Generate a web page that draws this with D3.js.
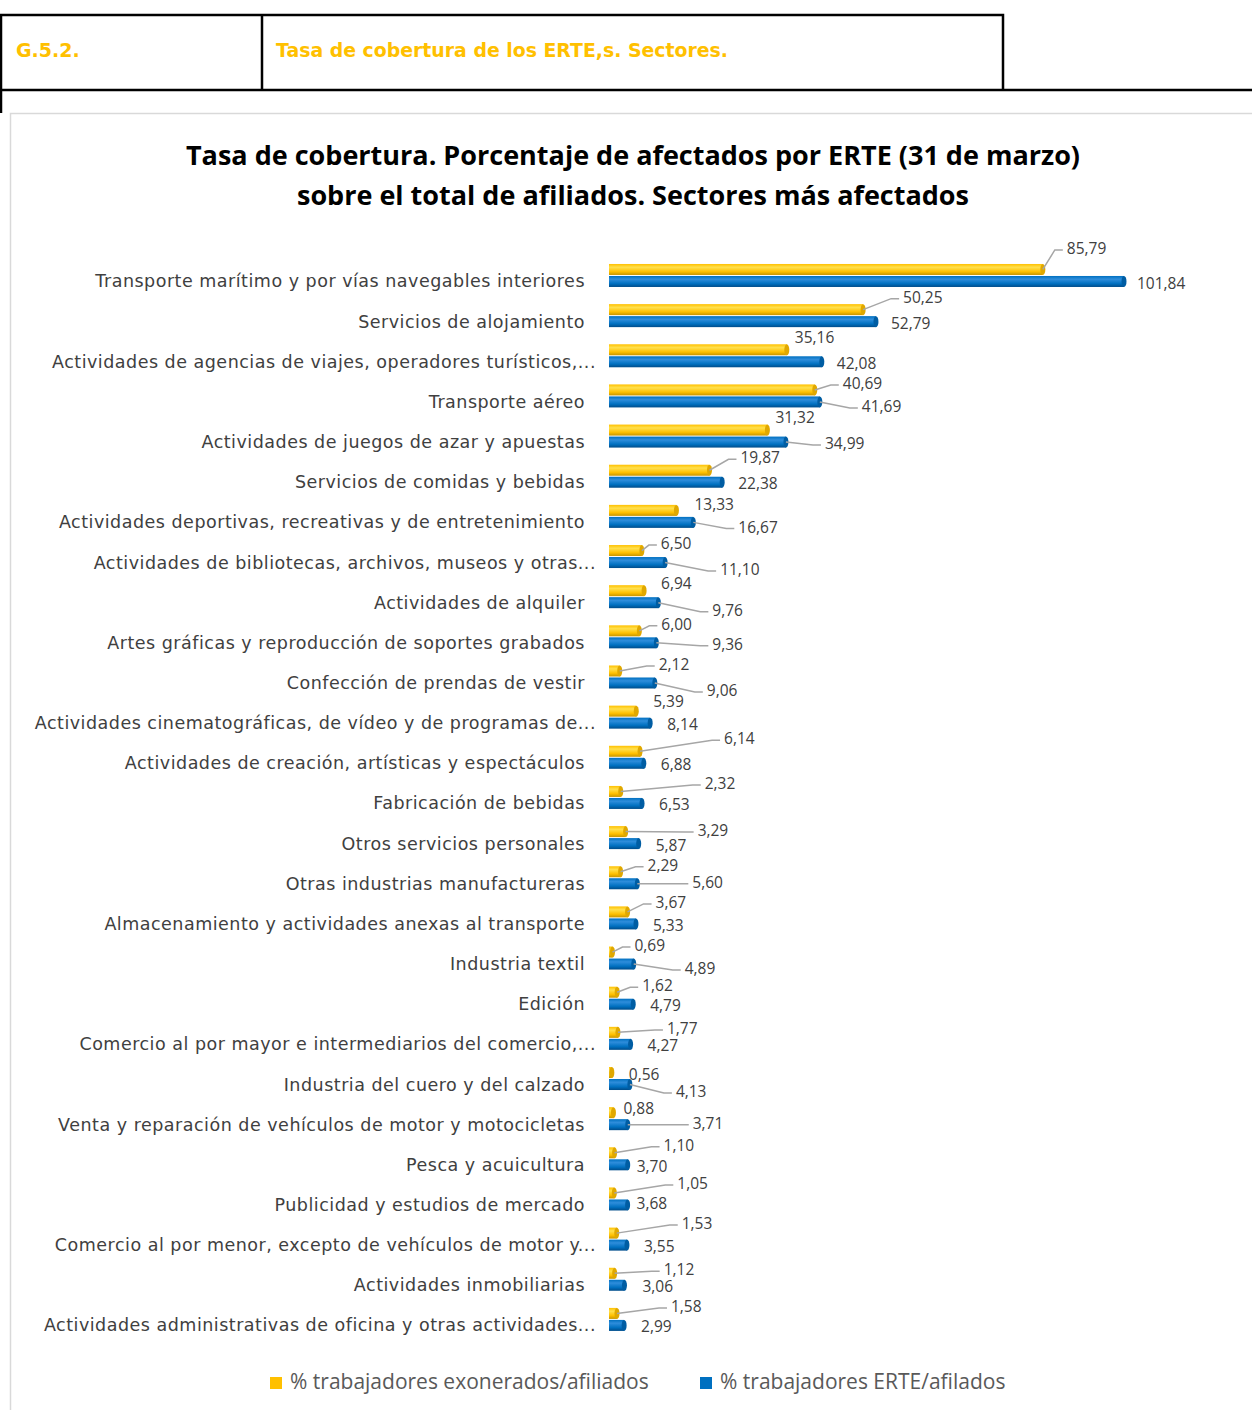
<!DOCTYPE html>
<html>
<head>
<meta charset="utf-8">
<script src="https://cdn.jsdelivr.net/npm/d3@7"></script>
<style>
  body { margin: 0; background: #fff; }
  svg { display: block; }
</style>
</head>
<body>
<svg id="chart" width="1252" height="1410"></svg>
<script>
// sectors, top to bottom
const sectors = [
  'Transporte marítimo y por vías navegables interiores',
  'Servicios de alojamiento',
  'Actividades de agencias de viajes, operadores turísticos,...',
  'Transporte aéreo',
  'Actividades de juegos de azar y apuestas',
  'Servicios de comidas y bebidas',
  'Actividades deportivas, recreativas y de entretenimiento',
  'Actividades de bibliotecas, archivos, museos y otras...',
  'Actividades de alquiler',
  'Artes gráficas y reproducción de soportes grabados',
  'Confección de prendas de vestir',
  'Actividades cinematográficas, de vídeo y de programas de...',
  'Actividades de creación, artísticas y espectáculos',
  'Fabricación de bebidas',
  'Otros servicios personales',
  'Otras industrias manufactureras',
  'Almacenamiento y actividades anexas al transporte',
  'Industria textil',
  'Edición',
  'Comercio al por mayor e intermediarios del comercio,...',
  'Industria del cuero y del calzado',
  'Venta y reparación de vehículos de motor y motocicletas',
  'Pesca y acuicultura',
  'Publicidad y estudios de mercado',
  'Comercio al por menor, excepto de vehículos de motor y...',
  'Actividades inmobiliarias',
  'Actividades administrativas de oficina y otras actividades...'
];

const exonerados = [85.79, 50.25, 35.16, 40.69, 31.32, 19.87, 13.33, 6.50, 6.94, 6.00,
  2.12, 5.39, 6.14, 2.32, 3.29, 2.29, 3.67, 0.69, 1.62, 1.77,
  0.56, 0.88, 1.10, 1.05, 1.53, 1.12, 1.58];

const erte = [101.84, 52.79, 42.08, 41.69, 34.99, 22.38, 16.67, 11.10, 9.76, 9.36,
  9.06, 8.14, 6.88, 6.53, 5.87, 5.60, 5.33, 4.89, 4.79, 4.27,
  4.13, 3.71, 3.70, 3.68, 3.55, 3.06, 2.99];

const seriesNames = ['% trabajadores exonerados/afiliados', '% trabajadores ERTE/afilados'];

// hand-moved data labels: [dx from bar end, dy from bar centre, leader line]
const exoLabelMoves = [
  [24,-19.5,1],[40,-11,1],[8,-11,0],[28,-5,1],[8,-11,0],[31,-11,1],[18,-5,0],[19,-5.5,1],[17,-6,0],[22,-5,1],
  [39,-5,1],[17,-8,0],[84,-11,1],[84,-6.5,1],[72,0.5,1],[27,-5,1],[28,-8,1],[22,-5,1],[25,-5,1],[49,-2.4,1],
  [17,3.5,0],[10,-3,0],[49,-6,1],[63,-8,1],[65,-8,1],[49,-2,1],[54,-5.5,1]
];
const erteLabelMoves = [
  [13,3.5,0],[15,3,0],[15,3,0],[42,6,1],[39,3,1],[16,3,0],[45,6,1],[55,8.5,1],[54,9,1],[56,3,1],
  [52,9,1],[17,3,0],[17,3,0],[17,2.5,0],[17,3,0],[55,0,1],[17,3,0],[51,6,1],[17,3,0],[17,2.6,0],
  [46,8.5,1],[65,0,1],[9,3,0],[9,0,0],[17,3,0],[18,3,0],[17,2.5,0]
];

const svg = d3.select('#chart');
const fmt = v => d3.format('.2f')(v).replace('.', ',');
const catFont = '"DejaVu Sans", sans-serif';
const numFont = '"Open Sans", sans-serif';

////// header table //////
const head = svg.append('g').classed('header', true);
head.append('path')
  .attr('d', 'M1,113 V15 H1003 V90 M0,90 H1252 M262,15 V90')
  .attr('fill', 'none').attr('stroke', '#000').attr('stroke-width', 2.5);
head.append('text').text('G.5.2.')
  .attr('x', 16).attr('y', 51).attr('dominant-baseline', 'middle')
  .style('font', 'bold 19px ' + catFont).style('fill', '#FFC000');
head.append('text').text('Tasa de cobertura de los ERTE,s. Sectores.')
  .attr('x', 276).attr('y', 51).attr('dominant-baseline', 'middle')
  .style('font', 'bold 19px ' + catFont).style('fill', '#FFC000')
  .attr('textLength', 452).attr('lengthAdjust', 'spacingAndGlyphs');

////// chart frame //////
svg.append('rect').attr('x', 10.5).attr('y', 113.5).attr('width', 1260).attr('height', 1320)
  .attr('fill', '#fff').attr('stroke', '#d9d9d9').attr('stroke-width', 1.5);

const titleLines = ['Tasa de cobertura. Porcentaje de afectados por ERTE (31 de marzo)',
  'sobre el total de afiliados. Sectores más afectados'];
svg.selectAll('.title').data(titleLines).enter().append('text').classed('title', true)
  .text(d => d)
  .attr('x', 633).attr('y', (d, i) => 158 + i * 40)
  .attr('text-anchor', 'middle').attr('dominant-baseline', 'middle')
  .style('font', 'bold 27px ' + '"Open Sans", sans-serif').style('fill', '#000');

////// scales //////
const x = d3.scaleLinear().domain([0, 100]).range([609, 1114.7]);
const y = d3.scaleBand().domain(sectors).range([255.4, 1339.5]);
const barH = 11;

////// gradients for the cylinder look //////
const defs = svg.append('defs');
function cyl(id, light, mid, dark) {
  const g = defs.append('linearGradient').attr('id', id)
    .attr('x1', 0).attr('y1', 0).attr('x2', 0).attr('y2', 1);
  g.append('stop').attr('offset', '0%').attr('stop-color', mid);
  g.append('stop').attr('offset', '30%').attr('stop-color', light);
  g.append('stop').attr('offset', '70%').attr('stop-color', mid);
  g.append('stop').attr('offset', '100%').attr('stop-color', dark);
}
cyl('gYel', '#FFE04D', '#FFC000', '#C79500');
cyl('gBlu', '#2E8DDB', '#0070C0', '#004C8A');

const series = [
  {name: seriesNames[0], vals: exonerados, moves: exoLabelMoves, off: -6, fill: 'url(#gYel)', cap: '#E0A800', color: '#FFC000'},
  {name: seriesNames[1], vals: erte, moves: erteLabelMoves, off: 6, fill: 'url(#gBlu)', cap: '#005DA3', color: '#0070C0'}
];

////// category labels //////
svg.selectAll('.cat').data(sectors).enter().append('text').classed('cat', true)
  .text(d => d)
  .attr('x', d => d.endsWith('...') ? 596 : 585)
  .attr('y', d => y(d) + y.bandwidth() / 2 + 7)
  .attr('text-anchor', 'end').attr('dominant-baseline', 'middle')
  .style('font', '17.5px ' + catFont).style('fill', '#404040')
  .style('letter-spacing', '0.5px');

////// bars //////
series.forEach(s => {
  const grp = svg.append('g').classed('series', true);
  const rows = sectors.map((c, i) => ({cat: c, v: s.vals[i], mv: s.moves[i]}));
  const yc = d => y(d.cat) + y.bandwidth() / 2 + s.off;

  grp.selectAll('rect').data(rows).enter().append('rect')
    .attr('x', x(0)).attr('y', d => yc(d) - barH / 2)
    .attr('width', d => x(d.v) - x(0)).attr('height', barH)
    .attr('fill', s.fill);
  grp.selectAll('ellipse').data(rows).enter().append('ellipse')
    .attr('cx', d => x(d.v)).attr('cy', yc)
    .attr('rx', 2.5).attr('ry', barH / 2)
    .attr('fill', s.cap);

  // leader lines
  grp.selectAll('polyline').data(rows.filter(d => d.mv[2])).enter().append('polyline')
    .attr('points', d => {
      const x0 = x(d.v), y0 = yc(d);
      const lx = x0 + d.mv[0], ly = y0 + d.mv[1];
      return [[x0, y0], [lx - 12, ly], [lx - 4, ly]].join(' ');
    })
    .attr('fill', 'none').attr('stroke', '#a6a6a6').attr('stroke-width', 1.5);

  grp.selectAll('text').data(rows).enter().append('text')
    .text(d => fmt(d.v))
    .attr('x', d => x(d.v) + d.mv[0])
    .attr('y', d => yc(d) + d.mv[1])
    .attr('dominant-baseline', 'middle')
    .style('font', '15.5px ' + numFont).style('fill', '#404040');
});

////// legend //////
const legX = [270, 700];
const leg = svg.selectAll('.legend').data(series).enter().append('g').classed('legend', true)
  .attr('transform', (d, i) => 'translate(' + legX[i] + ',1383)');
leg.append('rect').attr('x', 0).attr('y', -6).attr('width', 12).attr('height', 12)
  .attr('fill', d => d.color);
leg.append('text').text(d => d.name).attr('x', 20).attr('y', 0)
  .attr('dominant-baseline', 'middle')
  .style('font', '21px ' + numFont).style('fill', '#595959');
</script>
</body>
</html>
